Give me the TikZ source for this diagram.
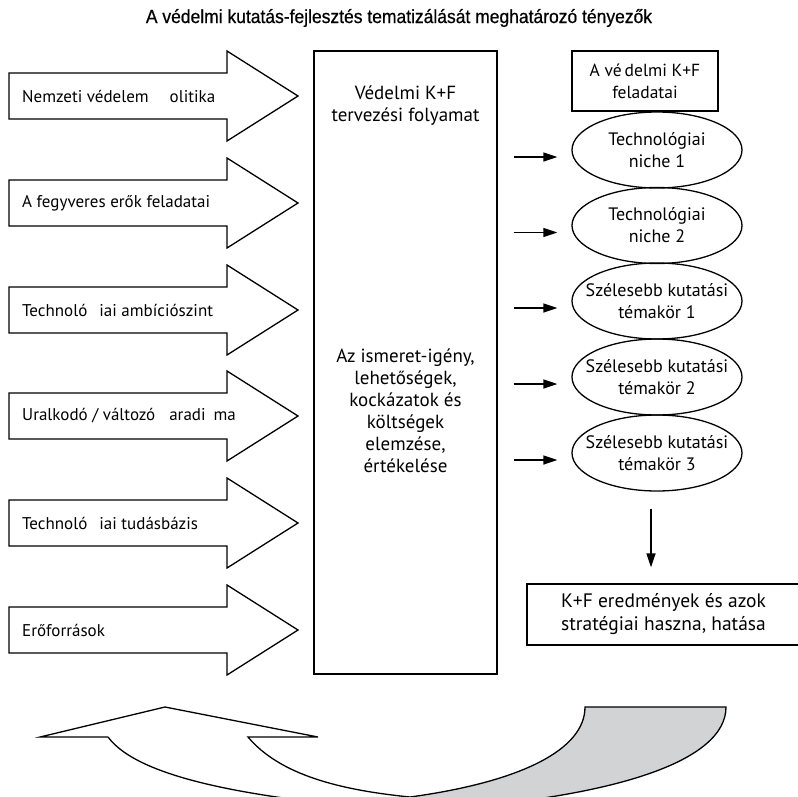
\documentclass[tikz,border=0pt]{standalone}
\usepackage{fontspec}
\setmainfont{PT Sans}
\newfontfamily\titlefont[FakeStretch=0.92,FakeBold=0.6]{Liberation Sans}
\usetikzlibrary{shapes.geometric,arrows.meta,calc}
\definecolor{ribbongray}{RGB}{209,211,212}
\begin{document}
\begin{tikzpicture}[x=1pt,y=-1pt,line join=miter,
  txt/.style={font=\fontsize{17}{22}\selectfont, inner sep=0pt},
  midtxt/.style={font=\fontsize{19}{22}\selectfont, inner sep=0pt},
  boxed/.style={draw, line width=1.3pt, inner sep=0pt},
  oval/.style={ellipse, draw, line width=1.3pt, minimum width=170pt, minimum height=76pt, inner xsep=-30pt, inner ysep=-6pt, align=center, font=\fontsize{18}{22}\selectfont},
  bigarrow/.style={draw, line width=1.3pt},
  arr/.style={line width=1.5pt, -{Triangle[length=14pt,width=9pt]}}]
\useasboundingbox (0,0) rectangle (798,796);

% title
\node[inner sep=0pt] (title) at (399,18) {\titlefont\fontsize{19}{20}\selectfont A védelmi kutatás-fejlesztés tematizálását meghatározó tényezők};

% left block arrows
\foreach \c in {96,203,310,416,523,630}{
  \draw[bigarrow] (9,\c-23) -- (227,\c-23) -- (227,\c-45) -- (298,\c) -- (227,\c+45) -- (227,\c+23) -- (9,\c+23) -- cycle;
}
\node[txt, anchor=west] (f1) at (22,96) {Nemzeti védelem\hspace{21pt}olitika};
\node[txt, anchor=west] (f2) at (22,203) {A fegyveres erők feladatai};
\node[txt, anchor=west] (f3) at (22,310) {Technoló\hspace{12pt}iai ambíciószint};
\node[txt, anchor=west] (f4) at (22,416) {Uralkodó / változó\hspace{14pt}aradi\hspace{8pt}ma};
\node[txt, anchor=west] (f5) at (22,523) {Technoló\hspace{12pt}iai tudásbázis};
\node[txt, anchor=west] (f6) at (22,630) {Erőforrások};

% central planning box
\node[boxed, minimum width=183pt, minimum height=623pt] (plan) at (405.5,362.5) {};
\node[midtxt, align=center] (plantitle) at (405.5,105.5) {Védelmi K+F\\tervezési folyamat};
\node[midtxt, align=center] (planbody) at (405.5,411) {Az ismeret-igény,\\lehetőségek,\\kockázatok és\\költségek\\elemzése,\\értékelése};

% right side
\node[boxed, minimum width=146pt, minimum height=60pt, align=center, font=\fontsize{17.5}{22}\selectfont] (tasks) at (645,81) {A vé\hspace{3pt}delmi K+F\\feladatai};
\node[oval] (e1) at (657,150) {Technológiai\\niche 1};
\node[oval] (e2) at (657,225.5) {Technológiai\\niche 2};
\node[oval] (e3) at (657,301) {Szélesebb kutatási\\témakör 1};
\node[oval] (e4) at (657,377) {Szélesebb kutatási\\témakör 2};
\node[oval] (e5) at (657,453) {Szélesebb kutatási\\témakör 3};

\foreach \e in {e1,e2,e3,e4,e5}{
  \draw[arr] ($(plan.east |- \e.center)+(16,7)$) -- ($(\e.west)+(-14,7)$);
}

\node[boxed, minimum width=273pt, minimum height=61pt, align=center, font=\fontsize{19.5}{23}\selectfont] (res) at (663.5,614.5) {K+F eredmények és azok\\stratégiai haszna, hatása};
\draw[arr] ($(e5.south)+(-6,17)$) -- ($(res.north -| e5.south)+(-6,-16)$);

% bottom curved ribbon arrow
\filldraw[fill=ribbongray, draw=black, line width=1.3pt]
  (410,797) .. controls (520,782) and (585,750) .. (585,707) -- (726,707)
  .. controls (726,760) and (620,800) .. (400,812);
\draw[line width=1.3pt]
  (108,737) .. controls (140,780) and (260,800) .. (420,812);
\draw[line width=1.3pt]
  (410,797) .. controls (340,790) and (280,775) .. (248,737)
  -- (318,737) -- (165,707) -- (40,737) -- (108,737);
\end{tikzpicture}
\end{document}
